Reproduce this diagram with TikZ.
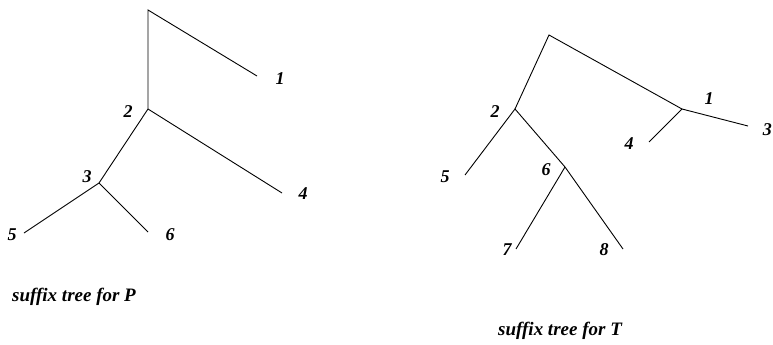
\documentclass[tikz,border=0pt]{standalone}
\usepackage{fontspec}
\setmainfont{Liberation Serif}
\begin{document}
\begin{tikzpicture}[x=1pt,y=-1pt,
  edge/.style={line width=0.9pt},
  lbl/.style={font=\fontsize{18}{20}\selectfont\bfseries\itshape, inner sep=0pt},
  captext/.style={font=\fontsize{19}{21}\selectfont\bfseries\itshape, inner sep=0pt}]
\useasboundingbox (0,0) rectangle (773,345);
% left tree
\coordinate (Lr) at (148,10);
\coordinate (L1) at (257,76);
\coordinate (L2) at (148,109);
\coordinate (L4) at (282,193);
\coordinate (L3) at (99,183);
\coordinate (L5) at (24,233);
\coordinate (L6) at (148,232);
\draw[edge] (L1) -- (Lr) -- (L2) -- (L4);
\draw[edge] (L2) -- (L3) -- (L5);
\draw[edge] (L3) -- (L6);
\node[lbl] (l1) at (280,79) {1};
\node[lbl] (l2) at (128,112) {2};
\node[lbl] (l3) at (87,177) {3};
\node[lbl] (l4) at (303,194) {4};
\node[lbl] (l5) at (12,235) {5};
\node[lbl] (l6) at (170,235) {6};
% right tree
\coordinate (Rr) at (549,35);
\coordinate (R2) at (515,109);
\coordinate (R1) at (682,109);
\coordinate (R3) at (748,126);
\coordinate (R4) at (649,142);
\coordinate (R5) at (465,175);
\coordinate (R6) at (565,167);
\coordinate (R7) at (516,249);
\coordinate (R8) at (623,249);
\draw[edge] (R2) -- (Rr) -- (R1) -- (R3);
\draw[edge] (R1) -- (R4);
\draw[edge] (R5) -- (R2) -- (R6) -- (R8);
\draw[edge] (R6) -- (R7);
\node[lbl] (r1) at (709,99) {1};
\node[lbl] (r2) at (495,112) {2};
\node[lbl, anchor=east] (r3) at (772,130) {3};
\node[lbl] (r4) at (629,144) {4};
\node[lbl] (r5) at (445,177) {5};
\node[lbl] (r6) at (546,170) {6};
\node[lbl] (r7) at (507,250) {7};
\node[lbl] (r8) at (604,250) {8};
% captions
\node[captext, anchor=west] (cp) at (12,297) {suffix tree for P};
\node[captext, anchor=west] (ct) at (498,331) {suffix tree for T};
\end{tikzpicture}
\end{document}
